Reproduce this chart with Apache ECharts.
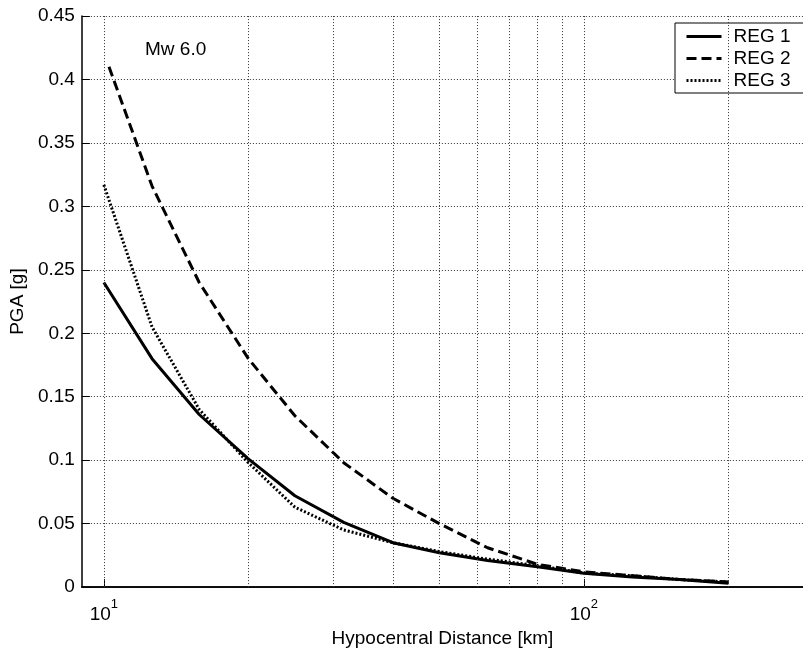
<!DOCTYPE html>
<html>
<head>
<meta charset="utf-8">
<script src="https://cdn.jsdelivr.net/npm/echarts@6/dist/echarts.min.js"></script>
<style>
    html,body{margin:0;padding:0;background:#fff;}
    #chart{width:803px;height:653px;}
</style>
</head>
<body>
<div id="chart"></div>
<script>
// hypocentral distance [km]
var dist = [10, 12.6, 15.8, 20, 25, 31.6, 40, 50, 63, 80, 100, 126, 158, 200]
var dist2 = [10.25, 12.6, 15.8, 20, 25, 31.6, 40, 50, 63, 80, 100, 126, 158, 200]
// PGA [g]
var reg1 = [0.240, 0.180, 0.136, 0.101, 0.072, 0.051, 0.035, 0.027, 0.021, 0.016, 0.011, 0.008, 0.006, 0.003]
var reg2 = [0.410, 0.316, 0.240, 0.180, 0.135, 0.098, 0.070, 0.050, 0.031, 0.018, 0.012, 0.009, 0.006, 0.004]
var reg3 = [0.317, 0.205, 0.140, 0.098, 0.063, 0.045, 0.035, 0.028, 0.022, 0.017, 0.011, 0.009, 0.006, 0.004]
var minorGrid = [20, 30, 40, 50, 60, 70, 80, 90, 200]
var majorGrid = [10, 100]

var font = 'Liberation Sans, Arial, sans-serif'
var gridColor = '#333'

function pairs(xs, ys){
    return xs.map(function(x, i){ return [x, ys[i]] })
}

var myChart = echarts.init(document.getElementById('chart'))
var vlines = minorGrid.concat(majorGrid).map(function(v){ return {xAxis: v} })

var option = {
    animation: false,
    backgroundColor: '#fff',
    textStyle: {fontFamily: font, color: '#000'},
    title: {
        text: 'Mw 6.0',
        left: 145,
        top: 40,
        padding: 0,
        textStyle: {fontFamily: font, fontSize: 19, fontWeight: 'normal', color: '#000'}
    },
    legend: {
        orient: 'vertical',
        left: 675,
        top: 23,
        padding: [4, 40, 3, 10],
        itemGap: 3,
        itemWidth: 35,
        itemHeight: 14,
        borderColor: '#000',
        borderWidth: 1,
        backgroundColor: '#fff',
        itemStyle: {opacity: 0},
        lineStyle: {width: 3},
        textStyle: {fontFamily: font, fontSize: 19, color: '#000', padding: [0, 0, 0, 7]},
        data: ['REG 1', 'REG 2', 'REG 3']
    },
    grid: {
        left: 81,
        top: 16,
        right: 0,
        bottom: 61
    },
    xAxis: [{
        type: 'log',
        logBase: 10,
        min: 9,
        max: 286,
        name: 'Hypocentral Distance [km]',
        nameLocation: 'middle',
        nameGap: 30,
        nameTextStyle: {fontFamily: font, fontSize: 19, color: '#000'},
        axisLine: {show: true, onZero: false, lineStyle: {color: '#000', width: 1.5}},
        axisTick: {show: true, inside: true, length: 8, lineStyle: {color: '#000'}},
        splitLine: {show: false},
        axisLabel: {
            showMinLabel: false,
            showMaxLabel: false,
            margin: 11,
            formatter: function(v){
                var e = Math.round(Math.log10(v))
                return '{b|10}{s|' + e + '}'
            },
            rich: {
                b: {fontFamily: font, fontSize: 19, color: '#000', verticalAlign: 'bottom', lineHeight: 26},
                s: {fontFamily: font, fontSize: 13, color: '#000', verticalAlign: 'top', lineHeight: 26}
            }
        }
    }, {
        type: 'value',
        position: 'top',
        min: 0,
        max: 1,
        axisLine: {show: true, lineStyle: {color: '#000', width: 1.5}},
        axisTick: {show: false},
        axisLabel: {show: false},
        splitLine: {show: false}
    }],
    yAxis: {
        type: 'value',
        min: 0,
        max: 0.45,
        interval: 0.05,
        name: 'PGA [g]',
        nameLocation: 'middle',
        nameGap: 52,
        nameTextStyle: {fontFamily: font, fontSize: 19, color: '#000'},
        axisLine: {show: true, lineStyle: {color: '#000', width: 1.5}},
        axisTick: {show: true, inside: true, length: 8, lineStyle: {color: '#000'}},
        axisLabel: {fontFamily: font, fontSize: 19, color: '#000', margin: 7},
        splitLine: {show: true, lineStyle: {color: gridColor, width: 1, type: [1, 2]}}
    },
    series: [
        {
            name: 'grid',
            type: 'line',
            data: [],
            silent: true,
            z: 1,
            markLine: {
                silent: true,
                symbol: 'none',
                label: {show: false},
                lineStyle: {color: gridColor, width: 1, type: [1, 2]},
                data: vlines
            }
        },
        {
            name: 'REG 1',
            type: 'line',
            data: pairs(dist, reg1),
            symbol: 'none',
            symbolSize: 0,
            z: 4,
            lineStyle: {color: '#000', width: 3, type: 'solid'},
            itemStyle: {color: '#000'}
        },
        {
            name: 'REG 2',
            type: 'line',
            data: pairs(dist2, reg2),
            symbol: 'none',
            symbolSize: 0,
            z: 3,
            lineStyle: {color: '#000', width: 3, type: [10, 5]},
            itemStyle: {color: '#000'}
        },
        {
            name: 'REG 3',
            type: 'line',
            data: pairs(dist, reg3),
            symbol: 'none',
            symbolSize: 0,
            z: 3,
            lineStyle: {color: '#000', width: 3, type: [2, 2]},
            itemStyle: {color: '#000'}
        }
    ]
}
myChart.setOption(option)
</script>
</body>
</html>
